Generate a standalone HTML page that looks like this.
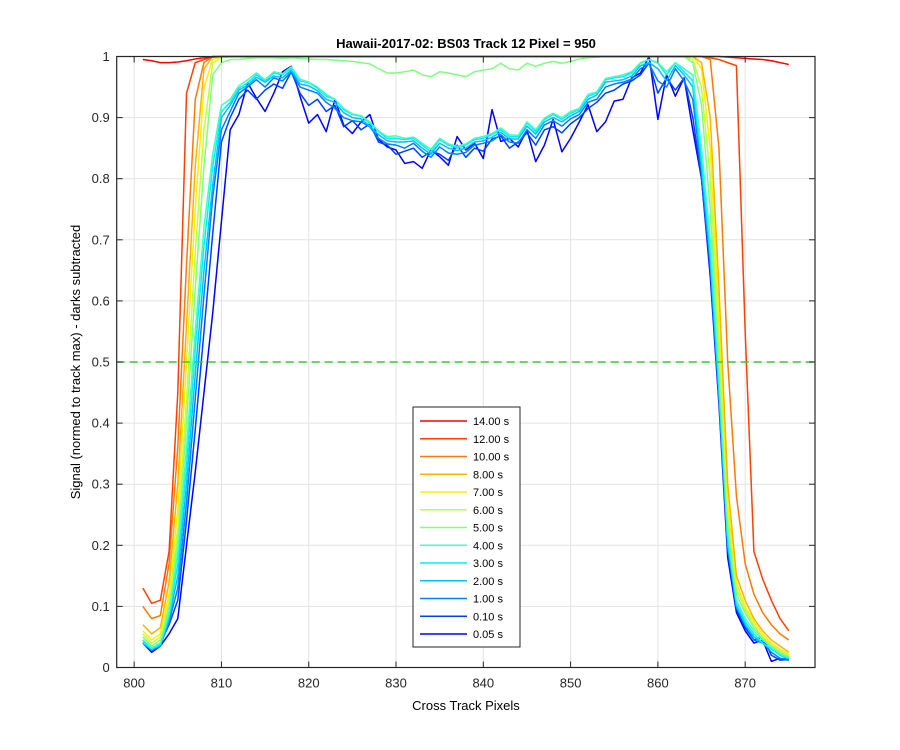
<!DOCTYPE html>
<html><head><meta charset="utf-8"><style>
html,body{margin:0;padding:0;background:#fff;}
svg{display:block;font-family:"Liberation Sans",Arial,sans-serif;}
</style></head><body>
<svg id="chart" width="900" height="750" viewBox="0 0 900 750">
<rect x="0" y="0" width="900" height="750" fill="#fff"/>
<g id="grid"></g>
<g id="series"></g>
<g id="axes"></g>
<text x="466" y="48" text-anchor="middle" font-size="13" font-weight="bold">Hawaii-2017-02: BS03  Track 12 Pixel = 950</text>
<text x="466" y="710" text-anchor="middle" font-size="13">Cross Track Pixels</text>
<text x="80" y="362" text-anchor="middle" font-size="13" transform="rotate(-90 80 362)">Signal (normed to track max) - darks subtracted</text>
<g id="legend"></g>
</svg>
<script>
const xTicks=[800,810,820,830,840,850,860,870];
const yTicks=[0,0.1,0.2,0.3,0.4,0.5,0.6,0.7,0.8,0.9,1];
const yTickLabels=["0","0.1","0.2","0.3","0.4","0.5","0.6","0.7","0.8","0.9","1"];
const xStart=801;
const seriesLabels=["14.00 s","12.00 s","10.00 s","8.00 s","7.00 s","6.00 s","5.00 s","4.00 s","3.00 s","2.00 s","1.00 s","0.10 s","0.05 s"];
const seriesColors=["#ff0000","#ff4000","#ff7a00","#ffb300","#ffee00","#c0ff40","#80ff80","#40ffbf","#00f0ff","#00c0ff","#0080ff","#0040ff","#0000ff"];
const ones52=[1,1,1,1,1,1,1,1,1,1,1,1,1,1,1,1,1,1,1,1,1,1,1,1,1,1,1,1,1,1,1,1,1,1,1,1,1,1,1,1,1,1,1,1,1,1,1,1,1,1,1,1];
const s14=[.995,.993,.99,.99,.991,.993,.996,.998,.999,1,1].concat(ones52,[1,1,1,1,.999,.998,.997,.996,.995,.993,.99,.987]);
const s12=[.13,.105,.11,.19,.45,.94,.99,.995,1,1,1].concat(ones52,[1,1,.998,.995,.99,.985,.55,.19,.145,.11,.08,.06]);
const s10=[.10,.08,.085,.17,.36,.66,.93,.99,1,1,1].concat(ones52,[1,1,.995,.85,.5,.28,.17,.12,.09,.07,.055,.045]);
const s8=[.07,.055,.065,.14,.3,.56,.82,.98,1,1,1].concat(ones52,[1,.99,.9,.62,.3,.15,.11,.08,.06,.045,.035,.025]);
const s7=[.06,.045,.055,.12,.26,.5,.75,.95,.995,1,1].concat(ones52,[1,.98,.85,.57,.27,.14,.1,.075,.055,.04,.03,.022]);
const s6=[.055,.04,.05,.11,.23,.44,.68,.88,.99,.998,1].concat(ones52,[.995,.95,.8,.53,.25,.13,.095,.07,.05,.038,.028,.02]);
const s5=[.05,.035,.045,.1,.21,.4,.62,.82,.97,.99,.995,
.995,.997,.998,.998,.998,.997,.998,.997,.996,.995,.995,.994,.993,.992,.99,.988,.98,.973,.973,.975,.978,.97,.967,.975,.973,.97,.967,.975,.978,.98,.989,.98,.978,.989,.984,.989,.992,.989,.992,.996,.998,.999,1,1,1,1,1,1,1,1,1,1,
.99,.92,.75,.5,.24,.12,.09,.065,.048,.035,.025,.018];
const s4=[.045,.032,.04,.09,.19,.36,.55,.72,.84,.92,.93,
.952,.962,.973,.962,.975,.972,.983,.963,.958,.95,.938,.93,.915,.906,.903,.893,.878,.869,.87,.866,.868,.858,.848,.866,.857,.853,.857,.866,.869,.874,.883,.872,.871,.893,.88,.899,.907,.9,.91,.915,.938,.942,.964,.967,.97,.975,.99,.995,.99,.975,.99,.98,
.97,.85,.7,.48,.22,.11,.08,.06,.045,.033,.022,.016];
const s3=[.042,.03,.038,.085,.17,.33,.52,.69,.82,.91,.925,
.948,.957,.97,.96,.973,.97,.981,.96,.957,.948,.935,.93,.913,.905,.902,.891,.877,.866,.866,.864,.866,.855,.844,.864,.855,.85,.855,.864,.866,.872,.88,.869,.869,.891,.877,.897,.905,.897,.907,.913,.935,.94,.962,.965,.967,.973,.989,.995,.989,.97,.99,.975,
.96,.83,.68,.46,.21,.105,.075,.055,.04,.03,.02,.015];
const s2=[.04,.03,.036,.08,.15,.3,.48,.65,.79,.9,.92,
.945,.953,.966,.958,.968,.965,.978,.955,.952,.944,.93,.925,.908,.9,.898,.886,.872,.862,.86,.86,.862,.85,.84,.858,.85,.846,.85,.86,.862,.868,.876,.865,.865,.886,.873,.893,.9,.893,.903,.91,.93,.937,.958,.96,.962,.968,.985,.99,.98,.96,.985,.97,
.95,.82,.67,.45,.2,.1,.07,.05,.04,.03,.02,.014];
const s1=[.04,.028,.035,.075,.13,.27,.44,.61,.77,.88,.91,
.94,.95,.962,.95,.965,.96,.975,.95,.945,.94,.925,.915,.9,.895,.893,.885,.866,.857,.855,.85,.858,.845,.835,.852,.842,.84,.843,.855,.858,.862,.872,.86,.858,.88,.866,.888,.895,.886,.898,.905,.925,.93,.95,.955,.958,.963,.98,.988,.96,.95,.98,.96,
.93,.81,.66,.44,.2,.1,.07,.045,.04,.025,.015,.014];
const s01=[.045,.03,.04,.07,.11,.24,.39,.55,.71,.86,.9,
.93,.945,.93,.945,.955,.948,.975,.94,.92,.93,.91,.92,.885,.895,.88,.89,.86,.855,.84,.845,.85,.835,.845,.84,.83,.855,.835,.85,.845,.865,.87,.85,.86,.875,.855,.88,.885,.875,.89,.9,.915,.925,.94,.945,.955,.96,.97,.99,.94,.965,.945,.965,
.9,.8,.65,.44,.19,.095,.065,.045,.05,.02,.012,.013];
const s005=[.04,.025,.035,.055,.08,.2,.32,.45,.58,.73,.88,
.905,.957,.932,.91,.94,.975,.984,.935,.891,.905,.877,.93,.888,.874,.893,.905,.864,.852,.847,.825,.828,.817,.847,.836,.822,.869,.847,.858,.833,.913,.861,.866,.852,.88,.828,.855,.897,.844,.866,.893,.921,.877,.893,.927,.93,.965,.973,1.0,.897,.97,.935,.965,
.88,.8,.64,.43,.18,.09,.06,.04,.045,.01,.015,.012];
const seriesValues=[s14,s12,s10,s8,s7,s6,s5,s4,s3,s2,s1,s01,s005];
const refLine=0.5;

const NS="http://www.w3.org/2000/svg";
const L=116.7,R=815,T=56.5,B=667.5,xMin=798,xMax=878;
function xs(v){return L+(v-xMin)/(xMax-xMin)*(R-L);}
function ys(v){return B-v*(B-T);}
function mk(tag,attrs,parent){const e=document.createElementNS(NS,tag);for(const k in attrs)e.setAttribute(k,attrs[k]);parent.appendChild(e);return e;}
const grid=document.getElementById('grid'),axes=document.getElementById('axes'),ser=document.getElementById('series'),leg=document.getElementById('legend');
mk('rect',{x:L,y:T,width:R-L,height:B-T,fill:'#fff'},grid);
xTicks.forEach(t=>{
 const g=mk('line',{x1:xs(t),x2:xs(t),y1:T,y2:B,stroke:'#e3e3e3','stroke-width':1},grid);
 
 
 const a=mk('line',{x1:xs(t),x2:xs(t),y1:B,y2:B-6,stroke:'#262626','stroke-width':1},axes);
 
 
 const b=mk('line',{x1:xs(t),x2:xs(t),y1:T,y2:T+6,stroke:'#262626','stroke-width':1},axes);
 
 
 const tx=mk('text',{x:xs(t),y:B+20,'text-anchor':'middle','font-size':13,fill:'#262626'},axes);
 tx.textContent=t;
 
 
});
yTicks.forEach((t,i)=>{
 const g=mk('line',{x1:L,x2:R,y1:ys(t),y2:ys(t),stroke:'#e3e3e3','stroke-width':1},grid);
 
 
 const a=mk('line',{x1:L,x2:L+6,y1:ys(t),y2:ys(t),stroke:'#262626','stroke-width':1},axes);
 
 
 const b=mk('line',{x1:R,x2:R-6,y1:ys(t),y2:ys(t),stroke:'#262626','stroke-width':1},axes);
 
 
 const tx=mk('text',{x:L-7,y:ys(t)+4.5,'text-anchor':'end','font-size':13,fill:'#262626'},axes);
 tx.textContent=yTickLabels[i];
 
 
});
const box=mk('rect',{x:L,y:T,width:R-L,height:B-T,fill:'none',stroke:'#262626','stroke-width':1.2},axes);


for(let s=seriesValues.length-1;s>=0;s--){
 const vals=seriesValues[s];
 const pts=vals.map((v,i)=>xs(xStart+i).toFixed(2)+','+ys(v).toFixed(2)).join(' ');
 const p=mk('polyline',{points:pts,fill:'none',stroke:seriesColors[s],'stroke-width':1.5,'stroke-linejoin':'round'},ser);
 
 
}
const ref=mk('line',{x1:L,x2:R,y1:ys(refLine),y2:ys(refLine),stroke:'#33cc33','stroke-width':1.5,'stroke-dasharray':'8,5'},ser);


const lb=mk('rect',{x:413,y:407,width:107,height:240,fill:'#fff',stroke:'#262626','stroke-width':1},leg);


seriesLabels.forEach((lab,i)=>{
 const y=421+i*17.75;
 const ln=mk('line',{x1:420,x2:467,y1:y,y2:y,stroke:seriesColors[i],'stroke-width':1.5},leg);
 
 
 const tx=mk('text',{x:473,y:y+4,'font-size':11,fill:'#000'},leg);
 tx.textContent=lab;
 
 
});
</script>
</body></html>
